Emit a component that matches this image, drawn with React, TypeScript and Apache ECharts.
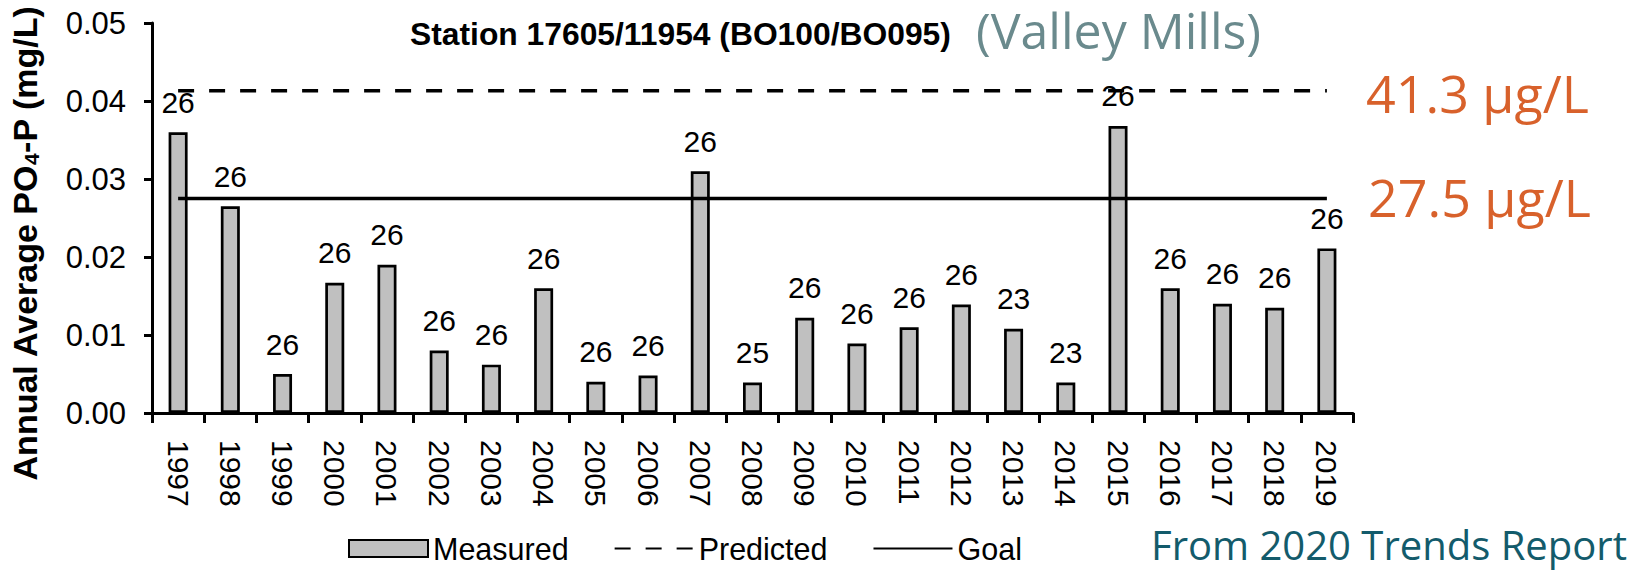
import React, { useEffect, useRef } from "react";
import * as echarts from "echarts";

// Sampling years on the x axis
const years = [
  "1997", "1998", "1999", "2000", "2001", "2002", "2003", "2004", "2005", "2006", "2007", "2008",
  "2009", "2010", "2011", "2012", "2013", "2014", "2015", "2016", "2017", "2018", "2019",
];

// Annual average PO4-P (mg/L)
const measured = [
  0.036, 0.0265, 0.005, 0.0167, 0.019, 0.008, 0.0062, 0.016, 0.004, 0.0048, 0.031, 0.0039,
  0.0122, 0.0089, 0.011, 0.0139, 0.0108, 0.0039, 0.0368, 0.016, 0.014, 0.0135, 0.0211,
];

// Number of samples behind each annual average
const sampleCounts = [
  26, 26, 26, 26, 26, 26, 26, 26, 26, 26, 26, 25, 26, 26, 26, 26, 23, 23, 26, 26, 26, 26, 26,
];

// Reference levels (mg/L)
const predictedLevel = 0.0413;
const goalLevel = 0.0275;

// Y-axis ticks
const yMin = 0;
const yMax = 0.05;
const yStep = 0.01;

const ARIAL = "Arial, 'Liberation Sans', sans-serif";
const SEGOE = "'Open Sans', 'Noto Sans', sans-serif";

export default function App() {
  const ref = useRef<HTMLDivElement>(null);

  useEffect(() => {
    if (!ref.current) return;
    const chart = echarts.init(ref.current, null, { renderer: "svg" });
    const first = years[0];
    const last = years[years.length - 1];
    // line legend entries show only the stroke, no marker
    const hiddenMarker = { color: "rgba(0,0,0,0)", borderWidth: 0, opacity: 0 };

    chart.setOption({
      animation: false,
      backgroundColor: "#ffffff",
      grid: { left: 140, top: 23, width: 1213, height: 390, containLabel: false },
      legend: {
        left: 343,
        top: 528,
        itemWidth: 79,
        itemHeight: 17,
        itemGap: 45,
        textStyle: { fontFamily: ARIAL, fontSize: 30.5, color: "#000" },
        data: [
          { name: "Measured", icon: "rect" },
          { name: "Predicted", itemStyle: hiddenMarker },
          { name: "Goal", itemStyle: hiddenMarker },
        ],
      },
      xAxis: {
        type: "category",
        data: years,
        boundaryGap: true,
        axisLine: { lineStyle: { color: "#000", width: 3 } },
        axisTick: { show: true, length: 10, lineStyle: { color: "#000", width: 3 } },
        axisLabel: {
          rotate: -90,
          margin: 27,
          fontFamily: ARIAL,
          fontSize: 30,
          color: "#000",
          interval: 0,
        },
        splitLine: { show: false },
      },
      yAxis: {
        type: "value",
        min: yMin,
        max: yMax,
        interval: yStep,
        name: "{b|Annual Average PO}{s|4}{b|-P (mg/L)}",
        nameLocation: "middle",
        nameRotate: 90,
        nameGap: 110,
        nameTextStyle: {
          padding: [0, 51, 0, 0],
          rich: {
            b: { fontFamily: ARIAL, fontSize: 34, fontWeight: "bold", color: "#000" },
            s: {
              fontFamily: ARIAL,
              fontSize: 21,
              fontWeight: "bold",
              color: "#000",
              padding: [13, 0, 0, 0],
            },
          },
        },
        axisLine: { show: true, lineStyle: { color: "#000", width: 3 } },
        axisTick: { show: true, length: 8, lineStyle: { color: "#000", width: 3 } },
        axisLabel: {
          margin: 26,
          fontFamily: ARIAL,
          fontSize: 31,
          color: "#000",
          formatter: (v: number) => v.toFixed(2),
        },
        splitLine: { show: false },
      },
      series: [
        {
          name: "Measured",
          type: "bar",
          data: measured,
          barWidth: 19,
          itemStyle: { color: "#c0c0c0", borderColor: "#000", borderWidth: 2.7 },
          label: {
            show: true,
            position: "top",
            distance: 15,
            fontFamily: ARIAL,
            fontSize: 30,
            color: "#000",
            formatter: (p: any) => String(sampleCounts[p.dataIndex]),
          },
          z: 2,
        },
        {
          name: "Predicted",
          type: "line",
          data: [
            [first, predictedLevel],
            [last, predictedLevel],
          ],
          symbol: "none",
          lineStyle: { color: "#000", width: 3.5, type: [16, 15] },
          itemStyle: { color: "#000" },
          z: 3,
        },
        {
          name: "Goal",
          type: "line",
          data: [
            [first, goalLevel],
            [last, goalLevel],
          ],
          symbol: "none",
          lineStyle: { color: "#000", width: 3.5, type: "solid" },
          itemStyle: { color: "#000" },
          z: 3,
        },
      ],
      graphic: [
        {
          type: "text",
          left: 410,
          top: 18,
          style: {
            text: "Station 17605/11954 (BO100/BO095)",
            fontFamily: ARIAL,
            fontWeight: "bold",
            fontSize: 31.8,
            fill: "#000",
          },
        },
        {
          type: "text",
          left: 976,
          top: 5,
          style: {
            text: "(Valley Mills)",
            fontFamily: SEGOE,
            fontSize: 50,
            fill: "#6a8a8d",
          },
        },
        {
          type: "text",
          left: 1366,
          top: 66,
          style: {
            text: "41.3 µg/L",
            fontFamily: SEGOE,
            fontSize: 52,
            fill: "#d8612b",
          },
        },
        {
          type: "text",
          left: 1368,
          top: 170,
          style: {
            text: "27.5 µg/L",
            fontFamily: SEGOE,
            fontSize: 52,
            fill: "#d8612b",
          },
        },
        {
          type: "text",
          left: 1151,
          top: 524,
          style: {
            text: "From 2020 Trends Report",
            fontFamily: SEGOE,
            fontSize: 40,
            fill: "#135b6b",
          },
        },
      ],
    });

    return () => chart.dispose();
  }, []);

  return (
    <div
      ref={ref}
      style={{ position: "fixed", left: 0, top: 0, width: 1633, height: 572, background: "#fff" }}
    />
  );
}
